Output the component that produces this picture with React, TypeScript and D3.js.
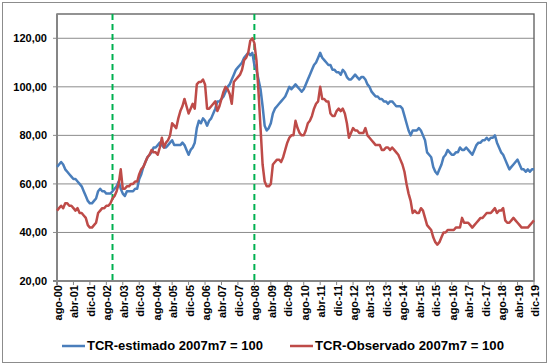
import React, { useEffect, useRef } from "react";
import * as d3 from "d3";

// monthly series, ago-00 .. dic-19
const monthNames = ["ene", "feb", "mar", "abr", "may", "jun", "jul", "ago", "sep", "oct", "nov", "dic"];
const startYear = 2000;
const startMonth = 7; // ago

const estimado = [
  67, 68, 69, 68, 66, 65, 64, 63, 62, 62,
  61, 60, 59, 57, 55, 53, 52, 52, 53, 54,
  57, 58, 57, 57, 56, 56, 56, 57, 58, 59,
  61, 58, 56, 55, 57, 57, 57, 57, 58, 58,
  62, 64, 67, 69, 71, 72, 73, 75, 75, 76,
  77, 76, 75, 75, 76, 77, 78, 76, 76, 76,
  76, 77, 76, 74, 72, 74, 75, 77, 83, 86,
  85, 87, 86, 84, 86, 87, 89, 91, 94, 94,
  95, 96, 98, 100, 101, 103, 105, 107, 108, 109,
  110, 112, 113, 114, 113, 114, 109, 107, 103, 99,
  92, 84, 82, 83, 85, 89, 91, 92, 93, 94,
  95, 96, 98, 100, 99, 100, 101, 100, 99, 98,
  99, 101, 103, 105, 107, 109, 110, 112, 114, 112,
  111, 110, 109, 109, 107, 107, 106, 106, 105, 107,
  106, 104, 103, 103, 104, 105, 104, 103, 104, 104,
  103, 101, 100, 98, 97, 96, 96, 95, 95, 94,
  94, 93, 94, 94, 93, 92, 92, 92, 91, 88,
  85, 82, 80, 82, 82, 82, 83, 82, 80, 78,
  73, 72, 71, 67, 65, 64, 66, 68, 71, 72,
  74, 73, 72, 72, 73, 73, 75, 74, 74, 75,
  74, 73, 72, 74, 76, 77, 77, 78, 78, 79,
  78, 79, 79, 80, 77, 75, 73, 72, 70, 68,
  66, 67, 68, 69, 70, 68, 66, 66, 65, 66,
  65, 66, 66,
];

const observado = [
  49, 50, 51, 50, 52, 52, 51, 51, 50, 49,
  50, 48, 48, 47, 46, 43, 42, 42, 43, 44,
  48, 49, 50, 50, 51, 51, 52, 54, 55, 57,
  60, 66, 58, 58, 59, 59, 60, 60, 61, 61,
  64, 66, 67, 69, 71, 72, 74, 73, 73, 72,
  75, 79, 75, 77, 78, 80, 85, 84, 83, 87,
  90, 92, 95, 92, 89, 91, 93, 91, 101, 102,
  102, 103, 101, 91, 91, 92, 93, 94, 90, 92,
  95, 98, 100, 99, 97, 93, 102, 103, 104, 105,
  107, 111, 112, 114, 119, 120, 118, 111, 98, 83,
  68, 61, 59, 59, 60, 68, 69, 70, 70, 69,
  71, 74, 77, 79, 80, 80, 86, 83, 81, 80,
  80, 82, 85, 86, 88, 91, 93, 94, 100, 95,
  95, 94, 94, 89, 88, 88, 90, 91, 90, 91,
  89, 85, 79, 81, 83, 82, 82, 81, 81, 81,
  83, 80, 79, 78, 77, 76, 76, 76, 74, 74,
  75, 75, 74, 75, 74, 73, 72, 70, 68, 65,
  60, 56, 53, 48, 49, 48, 48, 50, 49, 46,
  43, 42, 41, 38, 36, 35, 36, 38, 40, 40,
  41, 41, 41, 41, 42, 42, 42, 46, 44, 44,
  44, 43, 42, 43, 44, 45, 46, 46, 47, 48,
  48, 48, 49, 50, 48, 49, 49, 50, 45, 44,
  44, 45, 46, 45, 44, 43, 42, 42, 42, 42,
  43, 44, 45,
];

const yTicks = [20, 40, 60, 80, 100, 120];
const yDomain = [20, 130];
const labelEvery = 8;
const markerMonths = ["nov-02", "ago-08"];
const seriesNames = ["TCR-estimado 2007m7 = 100", "TCR-Observado 2007m7 = 100"];
const seriesColors = ["#4A7EBB", "#BE4B48"];

const months = estimado.map((_, i) => {
  const t = startMonth + i;
  const yy = (startYear + Math.floor(t / 12)) % 100;
  return monthNames[t % 12] + "-" + String(yy).padStart(2, "0");
});

const W = 549, H = 364;
const margin = { top: 14, right: 15, bottom: 83, left: 57 };
const font = "'Liberation Sans', Arial, sans-serif";

export default function App() {
  const ref = useRef<SVGSVGElement>(null);

  useEffect(() => {
    const svg = d3.select(ref.current);
    svg.selectAll("*").remove();

    const x0 = margin.left, x1 = W - margin.right;
    const y0 = H - margin.bottom, y1 = margin.top;

    const x = d3.scalePoint<string>().domain(months).range([x0, x1]);
    const y = d3.scaleLinear().domain(yDomain).range([y0, y1]);

    // outer frame
    svg.append("rect")
      .attr("x", 2.5).attr("y", 2.5)
      .attr("width", W - 5).attr("height", H - 4)
      .attr("fill", "#fff").attr("stroke", "#8c8c8c").attr("stroke-width", 1);

    // grid
    svg.append("g").selectAll("line")
      .data(yTicks.slice(1))
      .enter().append("line")
      .attr("x1", x0 - 4).attr("x2", x1)
      .attr("y1", d => y(d)).attr("y2", d => y(d))
      .attr("stroke", "#8c8c8c").attr("stroke-width", 1);

    // plot border
    svg.append("rect")
      .attr("x", x0).attr("y", y1)
      .attr("width", x1 - x0).attr("height", y0 - y1)
      .attr("fill", "none").attr("stroke", "#595959").attr("stroke-width", 1.3);
    svg.append("line")
      .attr("x1", x0).attr("x2", x0).attr("y1", y1).attr("y2", y0 + 4)
      .attr("stroke", "#868686").attr("stroke-width", 2);
    svg.append("line")
      .attr("x1", x0 - 4).attr("x2", x1).attr("y1", y0).attr("y2", y0)
      .attr("stroke", "#868686").attr("stroke-width", 2);

    // y labels
    svg.append("g").selectAll("text")
      .data(yTicks)
      .enter().append("text")
      .attr("x", 47).attr("y", d => y(d)).attr("dy", "0.36em")
      .attr("text-anchor", "end")
      .style("font", `bold 11px ${font}`)
      .attr("fill", "#000")
      .text(d => d3.format(".2f")(d).replace(".", ","));

    // x ticks and labels
    const labelled = months.filter((_, i) => i % labelEvery === 0);
    svg.append("g").selectAll("line")
      .data(labelled)
      .enter().append("line")
      .attr("x1", d => x(d)!).attr("x2", d => x(d)!)
      .attr("y1", y0).attr("y2", y0 + 4)
      .attr("stroke", "#868686").attr("stroke-width", 1);
    svg.append("g").selectAll("text")
      .data(labelled)
      .enter().append("text")
      .attr("transform", d => `translate(${x(d)! + 1},${y0 + 4}) rotate(-90)`)
      .attr("dy", "0.36em")
      .attr("text-anchor", "end")
      .style("font", `bold 11px ${font}`)
      .attr("fill", "#000")
      .text(d => d);

    // dashed markers
    svg.append("g").selectAll("line")
      .data(markerMonths)
      .enter().append("line")
      .attr("x1", d => x(d)!).attr("x2", d => x(d)!)
      .attr("y1", y1).attr("y2", y0)
      .attr("stroke", "#00B050").attr("stroke-width", 2)
      .attr("stroke-dasharray", "6,4");

    // series
    const line = d3.line<number>()
      .x((_, i) => x(months[i])!)
      .y(d => y(d));
    [estimado, observado].forEach((s, k) => {
      svg.append("path")
        .datum(s)
        .attr("d", line)
        .attr("fill", "none")
        .attr("stroke", seriesColors[k])
        .attr("stroke-width", 2.5)
        .attr("stroke-linejoin", "round");
    });

    // legend
    const legendX = [62, 290];
    const legendLen = [176, 189];
    const ly = 346;
    seriesNames.forEach((name, k) => {
      svg.append("line")
        .attr("x1", legendX[k]).attr("x2", legendX[k] + 23)
        .attr("y1", ly).attr("y2", ly)
        .attr("stroke", seriesColors[k]).attr("stroke-width", 2.5);
      svg.append("text")
        .attr("x", legendX[k] + 25).attr("y", ly).attr("dy", "0.36em")
        .attr("textLength", legendLen[k])
        .attr("lengthAdjust", "spacingAndGlyphs")
        .style("font", `bold 12px ${font}`)
        .attr("fill", "#000")
        .text(name);
    });
  }, []);

  return (
    <svg ref={ref} width={W} height={H}
      style={{ position: "absolute", left: 0, top: 0, background: "#fff" }} />
  );
}
